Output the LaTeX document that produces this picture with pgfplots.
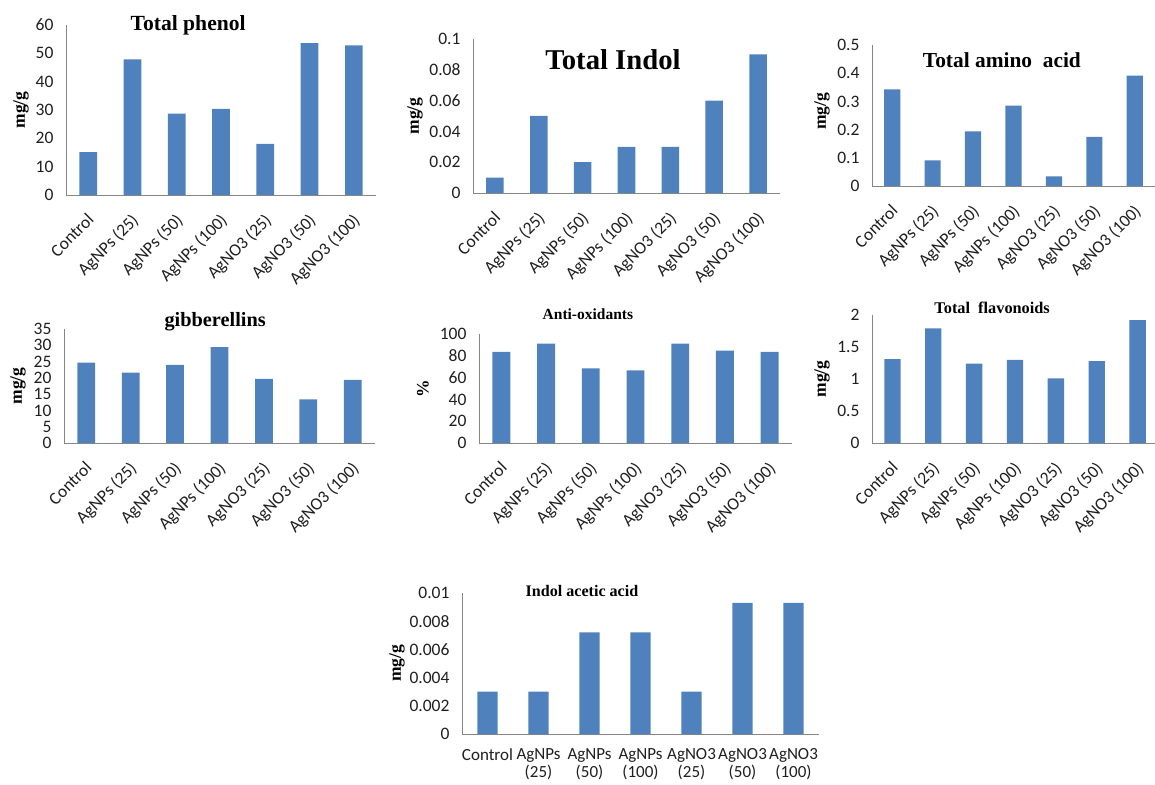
\documentclass[border=0pt]{standalone}
\usepackage{pgfplots}
\pgfplotsset{compat=1.18}
\usepackage{fontspec}
\setmainfont{Carlito}
\newfontfamily\tnr{Liberation Serif}

\definecolor{barblue}{HTML}{4F81BD}
\definecolor{axisgray}{HTML}{868686}
\definecolor{ticktext}{HTML}{1F1F1F}

\newcommand{\tickfont}{\fontsize{17.5}{19}\selectfont}
\newcommand{\ylabfont}{\tnr\bfseries\fontsize{17.5}{19}\selectfont}

\pgfplotsset{
  panel/.style={
    scale only axis,
    anchor=south west,
    ybar,
    bar width=0.4,
    xmin=-0.5, xmax=6.5,
    ymin=0,
    xtick={0,...,6},
    axis x line*=bottom,
    axis y line*=left,
    axis line style={draw=axisgray, line width=0.9pt},
    major tick length=0pt,
    tick style={draw=none},
    tick label style={font=\tickfont, text=ticktext},
    yticklabel style={xshift=-9pt},
    /pgf/number format/assume math mode=true,
    scaled y ticks=false,
    % cancel the default 6pt lift of the title and centre it on its anchor
    title style={anchor=center, inner sep=0pt, yshift=-6pt},
    ylabel style={anchor=center, font=\ylabfont, rotate=0},
    clip=false,
  },
  rotlabels/.style={
    xticklabels={Control, AgNPs (25), AgNPs (50), AgNPs (100), AgNO3 (25), AgNO3 (50), AgNO3 (100)},
    xticklabel style={anchor=north east, inner sep=0pt, xshift=-2pt, yshift=-17pt, rotate=45},
  },
  bars/.style={fill=barblue, draw=none},
}

\begin{document}
\begin{tikzpicture}[x=1pt,y=1pt]
\useasboundingbox (0,0) rectangle (1155,784);

% Total phenol
\begin{axis}[panel, rotlabels, at={(66pt,589pt)}, width=310pt, height=170pt,
  ymax=60, ytick={0,10,...,60}, yticklabels={0,10,20,30,40,50,60},
  title={\tnr\bfseries\fontsize{21.6}{24}\selectfont Total phenol},
  title style={at={(axis description cs:0.394,1.0)}},
  ylabel={mg/g}, ylabel style={at={(axis description cs:-0.145,0.5)}}]
\addplot[bars] coordinates {(0,15.1) (1,47.9) (2,28.7) (3,30.4) (4,18.0) (5,53.6) (6,52.8)};
\end{axis}

% Total Indol
\begin{axis}[panel, rotlabels, at={(473pt,591pt)}, width=307pt, height=154pt,
  ymax=0.1, ytick={0,0.02,0.04,0.06,0.08,0.1}, yticklabels={0,0.02,0.04,0.06,0.08,0.1},
  title={\tnr\bfseries\fontsize{28.7}{31}\selectfont Total Indol},
  title style={at={(axis description cs:0.456,0.864)}},
  ylabel={mg/g}, ylabel style={at={(axis description cs:-0.189,0.5)}}]
\addplot[bars] coordinates {(0,0.01) (1,0.05) (2,0.02) (3,0.03) (4,0.03) (5,0.06) (6,0.09)};
\end{axis}

% Total amino acid
\begin{axis}[panel, rotlabels, at={(872pt,598pt)}, width=283pt, height=141pt,
  ymax=0.5, ytick={0,0.1,0.2,0.3,0.4,0.5}, yticklabels={0,0.1,0.2,0.3,0.4,0.5},
  title={\tnr\bfseries\fontsize{21.4}{24}\selectfont Total amino\ \ acid},
  title style={at={(axis description cs:0.459,0.894)}},
  ylabel={mg/g}, ylabel style={at={(axis description cs:-0.177,0.53)}}]
\addplot[bars] coordinates {(0,0.343) (1,0.091) (2,0.194) (3,0.285) (4,0.034) (5,0.174) (6,0.391)};
\end{axis}

% gibberellins
\begin{axis}[panel, rotlabels, at={(64pt,341pt)}, width=311pt, height=114pt,
  ymax=35, ytick={0,5,...,35}, yticklabels={0,5,10,15,20,25,30,35},
  title={\tnr\bfseries\fontsize{20.3}{22}\selectfont gibberellins},
  title style={at={(axis description cs:0.486,1.061)}},
  ylabel={mg/g}, ylabel style={at={(axis description cs:-0.148,0.5)}}]
\addplot[bars] coordinates {(0,24.7) (1,21.6) (2,24.0) (3,29.4) (4,19.7) (5,13.4) (6,19.4)};
\end{axis}

% Anti-oxidants
\begin{axis}[panel, rotlabels, at={(479pt,341pt)}, width=313pt, height=109pt,
  ymax=100, ytick={0,20,...,100}, yticklabels={0,20,40,60,80,100},
  title={\tnr\bfseries\fontsize{15.5}{17}\selectfont Anti-oxidants},
  title style={at={(axis description cs:0.348,1.183)}},
  ylabel={\%}, ylabel style={at={(axis description cs:-0.179,0.5)}}]
\addplot[bars] coordinates {(0,83.5) (1,91.1) (2,68.5) (3,66.6) (4,91.1) (5,84.7) (6,83.5)};
\end{axis}

% Total flavonoids
\begin{axis}[panel, rotlabels, at={(872pt,341pt)}, width=286pt, height=128pt,
  ymax=2, ytick={0,0.5,1,1.5,2}, yticklabels={0,0.5,1,1.5,2},
  title={\tnr\bfseries\fontsize{16.3}{18}\selectfont Total\ \ flavonoids},
  title style={at={(axis description cs:0.42,1.055)}},
  ylabel={mg/g}, ylabel style={at={(axis description cs:-0.175,0.5)}}]
\addplot[bars] coordinates {(0,1.31) (1,1.79) (2,1.24) (3,1.30) (4,1.01) (5,1.28) (6,1.92)};
\end{axis}

% Indol acetic acid
\begin{axis}[panel, at={(462pt,50pt)}, width=357pt, height=141pt,
  ymax=0.01, ytick={0,0.002,0.004,0.006,0.008,0.01}, yticklabels={0,0.002,0.004,0.006,0.008,0.01},
  xticklabels={Control, {AgNPs\\(25)}, {AgNPs\\(50)}, {AgNPs\\(100)}, {AgNO3\\(25)}, {AgNO3\\(50)}, {AgNO3\\(100)}},
  xticklabel style={align=center, anchor=north, inner sep=0pt, yshift=-14pt, font=\fontsize{17}{18}\selectfont},
  title={\tnr\bfseries\fontsize{16.1}{18}\selectfont Indol acetic acid},
  title style={at={(axis description cs:0.336,1.015)}},
  ylabel={mg/g}, ylabel style={at={(axis description cs:-0.182,0.5)}}]
\addplot[bars] coordinates {(0,0.003) (1,0.003) (2,0.0072) (3,0.0072) (4,0.003) (5,0.0093) (6,0.0093)};
\end{axis}
\end{tikzpicture}
\end{document}
